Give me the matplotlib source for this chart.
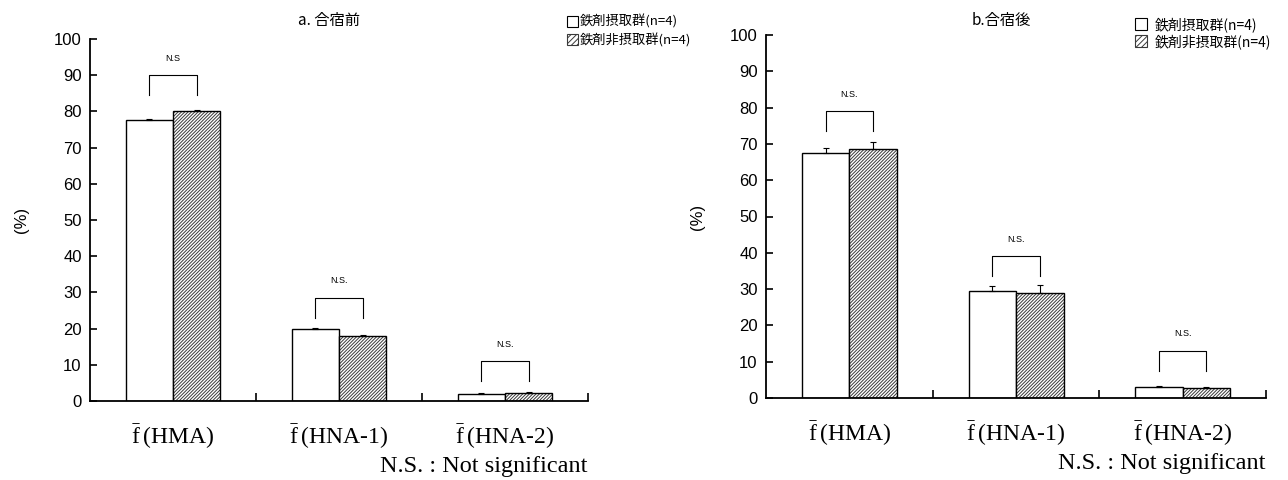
import matplotlib
matplotlib.use("Agg")
import matplotlib.pyplot as plt
import numpy as np
from matplotlib.patches import Patch

plt.rcParams["font.family"] = ["Noto Sans CJK JP", "DejaVu Sans"]
plt.rcParams["hatch.linewidth"] = 0.7
plt.rcParams["mathtext.fontset"] = "custom"
plt.rcParams["mathtext.rm"] = "Liberation Serif"

# --- data ---
categories = [r"$\bar{\mathrm{f}}\,$(HMA)", r"$\bar{\mathrm{f}}\,$(HNA-1)",
              r"$\bar{\mathrm{f}}\,$(HNA-2)"]
series_names = ["鉄剤摂取群(n=4)", "鉄剤非摂取群(n=4)"]

pre_iron = [77.5, 20.0, 2.0]
pre_iron_err = [0.3, 0.3, 0.2]
pre_non = [80.0, 18.0, 2.2]
pre_non_err = [0.3, 0.3, 0.3]
pre_ns = ["N.S", "N.S.", "N.S."]
pre_bracket = [90.0, 28.5, 11.0]

post_iron = [67.5, 29.5, 3.0]
post_iron_err = [1.5, 1.3, 0.3]
post_non = [68.5, 29.0, 2.8]
post_non_err = [2.0, 2.0, 0.2]
post_ns = ["N.S.", "N.S.", "N.S."]
post_bracket = [79.0, 39.0, 13.0]

yticks = list(range(0, 101, 10))

W = 0.285
SERIF = "Liberation Serif"


def draw_panel(ax, iron, iron_err, non, non_err, ns, bracket):
    x = np.arange(len(categories))
    xi = x - W / 2
    xn = x + W / 2
    ax.bar(xi, iron, W, color="white", edgecolor="black", linewidth=1.0, zorder=2)
    # hatched bars: hatch in grey, outline in black
    ax.bar(xn, non, W, color="white", edgecolor="#3a3a3a", hatch="//////////",
           linewidth=0, zorder=2)
    ax.bar(xn, non, W, fill=False, edgecolor="black", linewidth=1.0, zorder=3)
    z = np.zeros(len(x))
    ax.errorbar(xi, iron, yerr=[z, iron_err], fmt="none", ecolor="black",
                elinewidth=0.8, capsize=2, capthick=0.8, zorder=4)
    ax.errorbar(xn, non, yerr=[z, non_err], fmt="none", ecolor="black",
                elinewidth=0.8, capsize=2, capthick=0.8, zorder=4)
    for i in range(len(x)):
        top = bracket[i]
        leg = top - 5.5
        ax.plot([xi[i], xi[i], xn[i], xn[i]], [leg, top, top, leg],
                color="black", lw=0.8)
        ax.text(x[i], top + 3.5, ns[i], ha="center", va="bottom", fontsize=6.5,
                family=["Liberation Sans", "DejaVu Sans"])

    ax.set_xlim(-0.5, 2.5)
    ax.set_ylim(0, 100)
    ax.spines["top"].set_visible(False)
    ax.spines["right"].set_visible(False)
    ax.spines["left"].set_linewidth(1.3)
    ax.spines["bottom"].set_linewidth(1.3)
    ax.set_yticks(yticks)
    ax.set_yticklabels([str(t) for t in yticks],
                       family=["Liberation Sans", "DejaVu Sans"], fontsize=12)
    ax.tick_params(axis="y", direction="in", length=5, width=1.2, pad=6)
    ax.set_xticks([0.5, 1.5, 2.5])
    ax.set_xticklabels([])
    ax.tick_params(axis="x", which="major", direction="in", length=6, width=1.2)
    ax.set_xticks(x, minor=True)
    ax.set_xticklabels(categories, minor=True, family=[SERIF, "DejaVu Serif"],
                       fontsize=17)
    ax.tick_params(axis="x", which="minor", length=0, pad=15)
    ax.set_ylabel("(%)", fontsize=12, labelpad=18,
                  family=["Liberation Sans", "DejaVu Sans"])
    ax.text(1.0, -0.18, "N.S. : Not significant", transform=ax.transAxes,
            ha="right", va="center", fontsize=17.5, family=[SERIF, "DejaVu Serif"])


fig = plt.figure(figsize=(12.88, 4.8), dpi=100)
ax1 = fig.add_axes([90 / 1288, 1 - 401 / 480, 498 / 1288, 362 / 480])
ax2 = fig.add_axes([766 / 1288, 1 - 398 / 480, 500 / 1288, 363 / 480])

draw_panel(ax1, pre_iron, pre_iron_err, pre_non, pre_non_err, pre_ns, pre_bracket)
draw_panel(ax2, post_iron, post_iron_err, post_non, post_non_err, post_ns, post_bracket)

fig.text(298 / 1288, 1 - 20 / 480, "a. 合宿前", fontsize=11, va="center")
fig.text(972 / 1288, 1 - 20 / 480, "b.合宿後", fontsize=11, va="center")

handles = [
    Patch(facecolor="white", edgecolor="black", linewidth=0.8),
    Patch(facecolor="white", edgecolor="#3a3a3a", hatch="//////", linewidth=0.8),
]
fig.legend(handles, series_names, loc="upper left",
           bbox_to_anchor=(560 / 1288, 1 - 8 / 480), frameon=False, fontsize=9.5,
           handlelength=0.9, handleheight=0.9, handletextpad=0.1,
           labelspacing=0.35, borderpad=0)
fig.legend(handles, series_names, loc="upper left",
           bbox_to_anchor=(1128 / 1288, 1 - 10 / 480), frameon=False, fontsize=10,
           handlelength=0.9, handleheight=0.9, handletextpad=0.5,
           labelspacing=0.15, borderpad=0)

fig.savefig("out.png", dpi=100, facecolor="white")
